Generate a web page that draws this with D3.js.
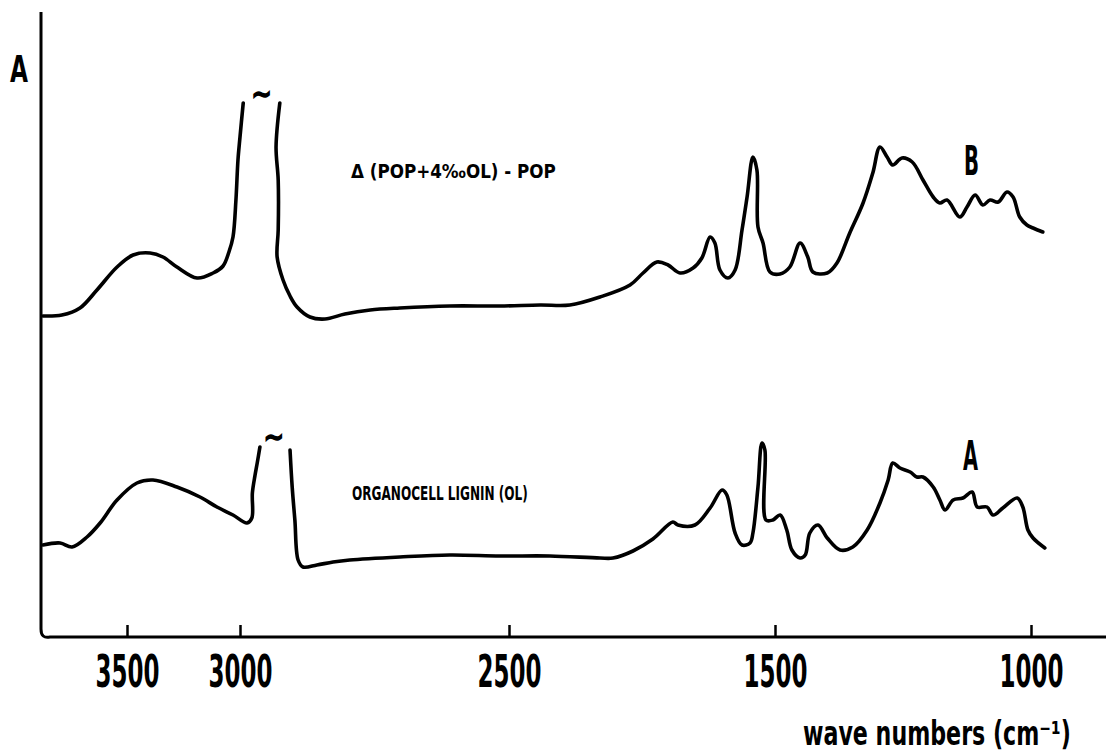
<!DOCTYPE html>
<html>
<head>
<meta charset="utf-8">
<script src="https://cdn.jsdelivr.net/npm/d3@7"></script>
<style>
  html, body { margin: 0; padding: 0; background: #fff; }
  svg { display: block; }
</style>
</head>
<body>
<svg id="chart" width="1106" height="754"></svg>
<script>
// ---- data (wave numbers in cm^-1 as labelled on the axis, absorbance in arbitrary units) ----
const tickValues = [3500, 3000, 2500, 1500, 1000];
const tickLabels = ["3500", "3000", "2500", "1500", "1000"];

// Curve B: Δ (POP+4‰OL) - POP   (null = cut-off peak)
const waveB = [3872, 3788, 3708, 3633, 3544, 3473, 3398, 3341, 3279, 3190, 3119, 3075, 3049, 3031, 3018, 3009, 3000, 2994,
  null,
  2926, 2933, 2929, 2929, 2931, 2920, 2907, 2894, 2870, 2842, 2805, 2758, 2703, 2610, 2517, 2383, 2271, 2158, 2045, 1996,
  1944, 1902, 1857, 1808, 1775, 1744, 1726, 1707, 1677, 1650, 1624, 1605, 1583, 1568, 1564, 1545, 1519, 1490, 1471, 1451,
  1436, 1426, 1398, 1379, 1354, 1328, 1309, 1295, 1281, 1270, 1252, 1232, 1211, 1191, 1178, 1164, 1139, 1125, 1109, 1094,
  1080, 1064, 1047, 1035, 1022, 1008, 996, 977];
const absB = [0.644, 0.646, 0.660, 0.696, 0.742, 0.766, 0.770, 0.762, 0.742, 0.720, 0.730, 0.744, 0.772, 0.802, 0.876, 0.956, 1.002, 1.070,
  null,
  1.070, 0.982, 0.916, 0.816, 0.762, 0.716, 0.684, 0.662, 0.642, 0.638, 0.648, 0.656, 0.660, 0.664, 0.664, 0.666, 0.666, 0.682, 0.706, 0.730,
  0.752, 0.746, 0.730, 0.740, 0.760, 0.802, 0.790, 0.736, 0.720, 0.736, 0.816, 0.882, 0.962, 0.936, 0.822, 0.790, 0.732, 0.728, 0.742, 0.790,
  0.762, 0.732, 0.730, 0.750, 0.810, 0.870, 0.930, 0.982, 0.962, 0.946, 0.960, 0.952, 0.916, 0.882, 0.870, 0.876, 0.842, 0.862, 0.886, 0.866,
  0.876, 0.872, 0.892, 0.882, 0.842, 0.826, 0.820, 0.812];

// Curve A: Organocell lignin (OL)
const waveA = [3872, 3796, 3743, 3677, 3619, 3544, 3456, 3385, 3279, 3177, 3102, 3031, 2987, 2978, 2977, 2972, 2968, 2963,
  null,
  2907, 2903, 2898, 2892, 2883, 2857, 2827, 2796, 2703, 2610, 2517, 2346, 2158, 2109, 2034, 1959, 1884, 1865, 1801, 1744,
  1699, 1681, 1650, 1624, 1594, 1583, 1564, 1549, 1538, 1534, 1508, 1490, 1477, 1467, 1451, 1441, 1432, 1416, 1398, 1373,
  1348, 1320, 1295, 1279, 1270, 1256, 1236, 1223, 1211, 1191, 1178, 1168, 1152, 1133, 1115, 1105, 1086, 1074, 1055, 1027,
  1016, 1006, 996, 973];
const absA = [0.186, 0.190, 0.182, 0.202, 0.230, 0.276, 0.310, 0.316, 0.302, 0.282, 0.262, 0.246, 0.230, 0.240, 0.290, 0.326, 0.350, 0.382,
  null,
  0.376, 0.302, 0.236, 0.156, 0.142, 0.146, 0.152, 0.156, 0.162, 0.166, 0.164, 0.164, 0.160, 0.160, 0.174, 0.198, 0.232, 0.226, 0.226, 0.260,
  0.296, 0.286, 0.210, 0.186, 0.190, 0.210, 0.302, 0.390, 0.376, 0.236, 0.236, 0.246, 0.216, 0.176, 0.160, 0.166, 0.210, 0.226, 0.200, 0.176,
  0.182, 0.216, 0.270, 0.316, 0.350, 0.340, 0.332, 0.322, 0.322, 0.302, 0.276, 0.256, 0.276, 0.280, 0.292, 0.262, 0.262, 0.246, 0.260, 0.280,
  0.262, 0.216, 0.200, 0.180];

// Cut-off marks (~) at the top of the truncated C–H peaks
const cutWave = [2960, 2937];
const cutAbs = [1.070, 0.385];

// Curve annotations
const curveNames = ["Δ (POP+4‰OL) - POP", "ORGANOCELL LIGNIN (OL)"];
const curveLetters = ["B", "A"];
const xTitle = "wave numbers (cm⁻¹)";
const yTitle = "A";

// ---- drawing ----
const svg = d3.select("#chart");
const W = 1106, H = 754;

const x = d3.scaleLinear().domain(tickValues).range([127, 240, 509, 775, 1031]);
const y = d3.scaleLinear().domain([0, 1.25]).range([638, 13]);

const font = "'Liberation Sans Narrow', 'DejaVu Sans Condensed', 'Arial Narrow', sans-serif";

// squeeze a text horizontally to a target width, keeping its anchor point fixed
function fitWidth(sel, widthFn) {
  sel.each(function (d, i) {
    const w = this.getComputedTextLength();
    const target = typeof widthFn === "function" ? widthFn(d, i) : widthFn;
    const sx = target / w;
    const ax = +(this.getAttribute("x") || 0);
    const anchor = this.getAttribute("text-anchor") || "start";
    const base = anchor === "middle" ? ax : ax;
    d3.select(this).attr("transform", `translate(${base},0) scale(${sx},1) translate(${-base},0)`);
  });
}

// axes frame: left vertical line + bottom line with rounded corner
const x0 = 41, yb = 637;
svg.append("path")
  .attr("d", `M${x0},12 V${yb - 8} Q${x0},${yb + 2} ${x0 + 9},${yb} H${W}`)
  .attr("fill", "none").attr("stroke", "#000").attr("stroke-width", 3);

// bottom axis with ticks pointing up
const axis = d3.axisBottom(x)
  .tickValues(tickValues)
  .tickFormat((d, i) => tickLabels[i])
  .tickSizeInner(-12)
  .tickSizeOuter(0)
  .tickPadding(26);
const gx = svg.append("g").attr("transform", `translate(0,${yb})`).call(axis);
gx.select(".domain").remove();
gx.selectAll(".tick line").attr("stroke", "#000").attr("stroke-width", 2.5);
gx.selectAll(".tick text")
  .attr("x", 0)
  .attr("y", 50)
  .attr("dy", 0)
  .attr("fill", "#000")
  .style("font-family", font)
  .style("font-weight", "bold")
  .style("font-size", "44px")
  .call(fitWidth, 64);

// curves
const line = d3.line()
  .defined(d => d[0] != null && d[1] != null)
  .x(d => x(d[0]))
  .y(d => y(d[1]))
  .curve(d3.curveCatmullRom.alpha(0.5));

const seriesList = [d3.zip(waveB, absB), d3.zip(waveA, absA)];
svg.selectAll("path.spec")
  .data(seriesList)
  .join("path")
  .attr("class", "spec")
  .attr("d", line)
  .attr("fill", "none")
  .attr("stroke", "#000")
  .attr("stroke-width", 3.6)
  .attr("stroke-linejoin", "round")
  .attr("stroke-linecap", "round");

// cut-off marks
svg.selectAll("text.cut")
  .data(d3.zip(cutWave, cutAbs))
  .join("text")
  .attr("class", "cut")
  .attr("x", d => x(d[0]))
  .attr("y", d => y(d[1]))
  .attr("text-anchor", "middle")
  .attr("stroke", "#000").attr("stroke-width", 1.6)
  .style("font-family", "'DejaVu Sans', sans-serif")
  .style("font-weight", "bold")
  .style("font-size", "24px")
  .text("~");

// axis titles
svg.append("text")
  .attr("x", 10).attr("y", 82)
  .style("font-family", font).style("font-weight", "bold").style("font-size", "38px")
  .text(yTitle)
  .call(fitWidth, 18);

svg.append("text")
  .attr("x", 803).attr("y", 745)
  .style("font-family", font).style("font-weight", "bold").style("font-size", "33px")
  .text(xTitle)
  .call(fitWidth, 268);

// curve labels
const nameX = [351, 352], nameY = [178, 500], nameLen = [205, 176];
svg.selectAll("text.name")
  .data(curveNames)
  .join("text")
  .attr("class", "name")
  .attr("x", (d, i) => nameX[i]).attr("y", (d, i) => nameY[i])
  .style("font-family", font).style("font-weight", "bold").style("font-size", "19px")
  .text(d => d)
  .call(fitWidth, (d, i) => nameLen[i]);

const letX = [964, 963], letY = [175, 470];
svg.selectAll("text.letter")
  .data(curveLetters)
  .join("text")
  .attr("class", "letter")
  .attr("x", (d, i) => letX[i]).attr("y", (d, i) => letY[i])
  .style("font-family", font).style("font-weight", "bold").style("font-size", "40px")
  .text(d => d)
  .call(fitWidth, 15);
</script>
</body>
</html>
